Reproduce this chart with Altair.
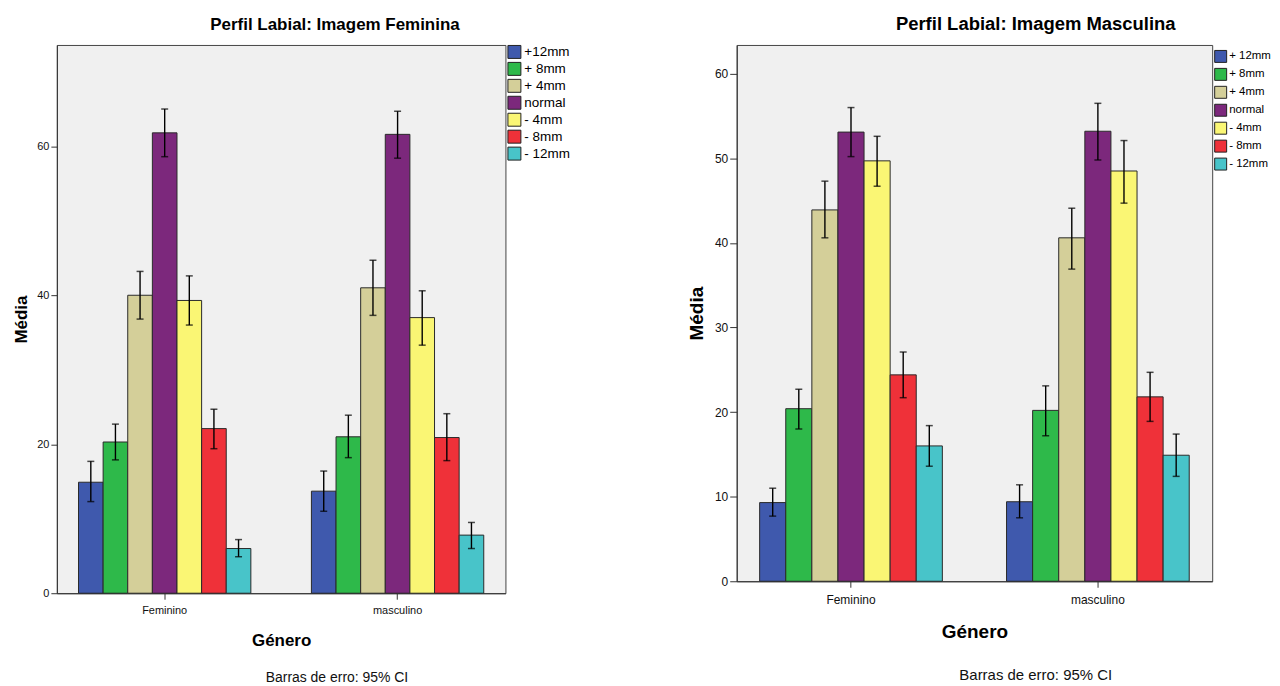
import altair as alt
import pandas as pd

generos = ["Feminino", "masculino"]
niveis_fem = ["+12mm", "+ 8mm", "+ 4mm", "normal", "- 4mm", "- 8mm", "- 12mm"]
niveis_masc = ["+ 12mm", "+ 8mm", "+ 4mm", "normal", "- 4mm", "- 8mm", "- 12mm"]
cores = ["#3F59AD", "#2EB94A", "#D4CF99", "#7C287C", "#FAF674", "#EF3139", "#48C4C9"]

# Imagem Feminina
fem_media_F = [14.9, 20.3, 40.0, 61.8, 39.3, 22.1, 6.0]
fem_lo_F = [12.3, 17.9, 36.8, 58.6, 36.0, 19.4, 4.9]
fem_hi_F = [17.7, 22.7, 43.2, 65.0, 42.6, 24.7, 7.2]
fem_media_M = [13.7, 21.0, 41.0, 61.6, 37.0, 20.9, 7.8]
fem_lo_M = [11.0, 18.2, 37.3, 58.4, 33.3, 17.8, 6.0]
fem_hi_M = [16.4, 23.9, 44.7, 64.7, 40.6, 24.1, 9.5]

# Imagem Masculina
masc_media_F = [9.3, 20.4, 43.9, 53.1, 49.7, 24.4, 16.0]
masc_lo_F = [7.7, 18.0, 40.6, 50.2, 46.7, 21.7, 13.6]
masc_hi_F = [11.0, 22.7, 47.3, 56.0, 52.6, 27.1, 18.4]
masc_media_M = [9.4, 20.2, 40.6, 53.2, 48.5, 21.8, 14.9]
masc_lo_M = [7.5, 17.2, 36.9, 49.8, 44.7, 18.9, 12.4]
masc_hi_M = [11.4, 23.1, 44.1, 56.5, 52.1, 24.7, 17.4]

titulos = ["Perfil Labial: Imagem Feminina", "Perfil Labial: Imagem Masculina"]
titulo_y = "Média"
titulo_x = "Género"
rodape = "Barras de erro: 95% CI"

FONT = "Liberation Sans"


def painel(titulo, niveis, mF, loF, hiF, mM, loM, hiM, ymax, ystep, w, h,
           fs, title_fs, title_dx, title_off, ax_fs, lg_fs, lg_off, sym, rowpad,
           leg_y, y_tick, y_tpad, x_lpad, x_tpad, foot_dx, foot_dy):
    rows = []
    for g, ms, los, his in [(generos[0], mF, loF, hiF), (generos[1], mM, loM, hiM)]:
        for n, m, lo, hi in zip(niveis, ms, los, his):
            rows.append({"genero": g, "nivel": n, "media": m, "lo": lo, "hi": hi})
    df = pd.DataFrame(rows)
    base = alt.Chart(df)
    x = alt.X("genero:N", sort=generos,
              scale=alt.Scale(paddingInner=0.26, paddingOuter=0.093),
              axis=alt.Axis(title=titulo_x, labelAngle=0, labelFont=FONT, labelFontSize=fs,
                            labelColor="#111", titleFont=FONT, titleFontSize=ax_fs,
                            titleFontWeight="bold", titleColor="#000", titlePadding=x_tpad,
                            tickSize=6, tickColor="#333", domainColor="#333",
                            labelPadding=x_lpad))
    xo = alt.XOffset("nivel:N", sort=niveis, scale=alt.Scale(paddingInner=0, paddingOuter=0))
    yax = alt.Axis(title=titulo_y, values=list(range(0, int(ymax) + 1, ystep)), grid=False,
                   labelFont=FONT, labelFontSize=fs, labelColor="#111", tickSize=y_tick,
                   tickColor="#333", domainColor="#333", labelPadding=2,
                   titleFont=FONT, titleFontSize=ax_fs, titleFontWeight="bold",
                   titleColor="#000", titlePadding=y_tpad)
    ysc = alt.Scale(domain=[0, ymax], nice=False, zero=True)
    bars = base.mark_bar(stroke="#2a2a2a", strokeWidth=1).encode(
        x=x, xOffset=xo,
        y=alt.Y("media:Q", scale=ysc, axis=yax),
        color=alt.Color("nivel:N", sort=niveis,
                        scale=alt.Scale(domain=niveis, range=cores),
                        legend=alt.Legend(title=None, orient="none", legendX=w + 2, legendY=leg_y,
                                          symbolType="square", symbolSize=sym,
                                          symbolStrokeColor="#222", symbolStrokeWidth=1,
                                          labelFont=FONT, labelFontSize=lg_fs,
                                          labelColor="#000", labelOffset=lg_off,
                                          rowPadding=rowpad)),
    )
    rules = base.mark_rule(color="#000", strokeWidth=1.4).encode(
        x=x, xOffset=xo,
        y=alt.Y("lo:Q", scale=ysc, axis=yax), y2="hi:Q")
    cap_lo = base.mark_tick(color="#000", thickness=1.5, size=7).encode(
        x=x, xOffset=xo, y=alt.Y("lo:Q", scale=ysc, axis=yax))
    cap_hi = base.mark_tick(color="#000", thickness=1.5, size=7).encode(
        x=x, xOffset=xo, y=alt.Y("hi:Q", scale=ysc, axis=yax))
    foot = alt.Chart(pd.DataFrame({"t": [rodape]})).mark_text(
        font=FONT, fontSize=fs + 3, color="#111", baseline="middle", align="center").encode(
        text="t:N", x=alt.value(w / 2 + foot_dx), y=alt.value(h + foot_dy))
    return alt.layer(bars, rules, cap_lo, cap_hi, foot).properties(
        width=w, height=h,
        title=alt.Title(titulo, font=FONT, fontSize=title_fs, fontWeight="bold", color="#000",
                        anchor="middle", frame="group", dx=title_dx, offset=title_off),
    )


left = painel(titulos[0], niveis_fem, fem_media_F, fem_lo_F, fem_hi_F,
              fem_media_M, fem_lo_M, fem_hi_M, 73.6, 20, 450, 550,
              fs=11, title_fs=17, title_dx=54, title_off=11.5, ax_fs=17, lg_fs=13.5, lg_off=3,
              sym=169, rowpad=-1, leg_y=0, y_tick=6, y_tpad=6, x_lpad=5.5, x_tpad=16.5,
              foot_dx=56, foot_dy=85)
right = painel(titulos[1], niveis_masc, masc_media_F, masc_lo_F, masc_hi_F,
               masc_media_M, masc_lo_M, masc_hi_M, 63.4, 10, 477, 538,
               fs=12, title_fs=18.5, title_dx=61.5, title_off=12, ax_fs=19, lg_fs=11.5, lg_off=2,
               sym=144, rowpad=1, leg_y=5, y_tick=7, y_tpad=8, x_lpad=7, x_tpad=17,
               foot_dx=61.5, foot_dy=94)

chart = alt.hconcat(left, right, spacing=116).resolve_scale(
    color="independent", y="independent", x="independent", xOffset="independent"
).properties(
    padding={"left": 4, "top": 5, "right": 0, "bottom": 0}, background="white"
).configure_view(fill="#F0F0F0", stroke="#444", strokeWidth=1)

chart.save("out.html", embed_options={"renderer": "svg", "actions": False})
